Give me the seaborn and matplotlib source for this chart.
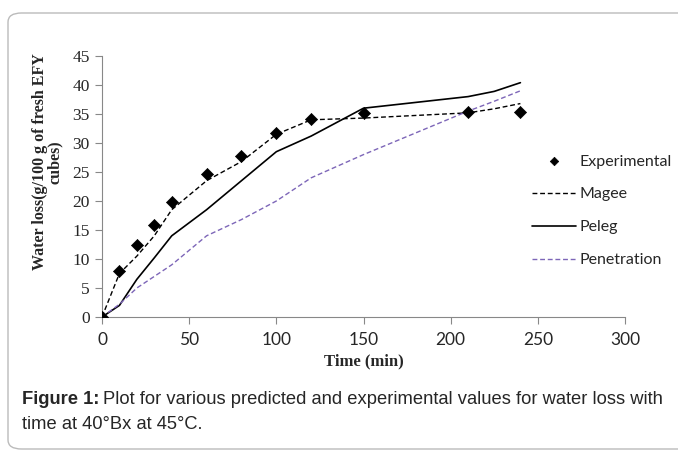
import matplotlib
matplotlib.use('Agg')
import matplotlib.pyplot as plt
import seaborn as sns
import pandas as pd
from matplotlib.patches import FancyBboxPatch

# valores
tempo_exp = [0, 10, 20, 30, 40, 60, 80, 100, 120, 150, 210, 240]
experimental = [0, 8.0, 12.5, 15.8, 19.8, 24.7, 27.7, 31.8, 34.2, 35.2, 35.3, 35.3]

tempo_mod = [0, 10, 20, 30, 40, 60, 80, 100, 120, 150, 210, 225, 240]
magee = [0, 7.5, 10.5, 14.0, 18.5, 23.5, 26.8, 31.5, 34.0, 34.3, 35.2, 35.9, 36.8]
peleg = [0, 2.0, 6.5, 10.2, 14.0, 18.5, 23.5, 28.5, 31.2, 36.0, 38.0, 38.9, 40.4]
penetracao = [0, 2.2, 5.0, 7.0, 9.0, 14.0, 16.8, 20.0, 24.0, 28.0, 35.5, 37.2, 39.0]

x_ticks = [0, 50, 100, 150, 200, 250, 300]
y_ticks = [0, 5, 10, 15, 20, 25, 30, 35, 40, 45]

df_exp = pd.DataFrame({'t': tempo_exp, 'wl': experimental})
df_mod = pd.DataFrame({'t': tempo_mod, 'magee': magee, 'peleg': peleg, 'pen': penetracao})

sns.set_style('white')
fig = plt.figure(figsize=(6.78, 4.53), dpi=100)
ax = fig.add_axes([102 / 678, 1 - 317 / 453, 523 / 678, 261 / 453])

sns.lineplot(data=df_mod, x='t', y='magee', ax=ax, color='black', lw=1.0,
             linestyle=(0, (3.5, 2)), label='Magee')
sns.lineplot(data=df_mod, x='t', y='peleg', ax=ax, color='black', lw=1.2, label='Peleg')
sns.lineplot(data=df_mod, x='t', y='pen', ax=ax, color='#7d66b8', lw=1.0,
             linestyle=(0, (3.5, 2)), label='Penetration')
sns.scatterplot(data=df_exp, x='t', y='wl', ax=ax, marker='D', color='black',
                s=38, edgecolor='black', zorder=5, label='Experimental')

sans_fam = ['Lato', 'DejaVu Sans']
ax.set_xlim(0, 300)
ax.set_ylim(0, 45)
ax.set_xticks(x_ticks)
ax.set_yticks(y_ticks)
ax.set_xticklabels([str(v) for v in x_ticks], family=sans_fam, fontsize=12.5)
ax.set_yticklabels([str(v) for v in y_ticks], family='Liberation Serif', fontsize=12.5)
ax.tick_params(axis='both', direction='out', length=5, width=0.8, color='#888888', bottom=True, left=True)
ax.tick_params(axis='x', pad=6)
ax.tick_params(axis='y', pad=4)
for s in ['top', 'right']:
    ax.spines[s].set_visible(False)
for s in ['left', 'bottom']:
    ax.spines[s].set_color('#888888')
    ax.spines[s].set_linewidth(0.8)

ax.set_xlabel('Time (min)', family='Liberation Serif', fontweight='bold', fontsize=12, labelpad=4)
ax.set_ylabel('Water loss(g/100 g of fresh EFY\ncubes)', family='Liberation Serif',
              fontweight='bold', fontsize=11.5, linespacing=0.95)
ax.yaxis.set_label_coords(-0.074, 0.594)

h, l = ax.get_legend_handles_labels()
ordem = [3, 0, 1, 2]
fig.legend([h[i] for i in ordem], [l[i] for i in ordem], loc='upper left',
           bbox_to_anchor=(518 / 678, 1 - 140 / 453), frameon=False,
           prop={'family': sans_fam, 'size': 11.5}, markerscale=0.7,
           labelspacing=1.17, handlelength=2.75, handletextpad=0.2)
if ax.get_legend():
    ax.get_legend().remove()

# moldura arredondada
moldura = FancyBboxPatch((8 / 678, 4 / 453), 700 / 678, 436 / 453,
                         boxstyle='round,pad=0,rounding_size=0.02',
                         transform=fig.transFigure, fill=False,
                         edgecolor='#bbbbbb', lw=1.0, clip_on=False)
fig.patches.append(moldura)

# legenda da figura
t1 = fig.text(22 / 678, 1 - 404 / 453, 'Figure 1:', family='Liberation Sans',
              fontweight='bold', fontsize=13.2)
r = fig.canvas.get_renderer()
bb = t1.get_window_extent(renderer=r)
fig.text((bb.x1 + 4) / 678, 1 - 404 / 453,
         'Plot for various predicted and experimental values for water loss with',
         family='Liberation Sans', fontsize=13.2)
fig.text(22 / 678, 1 - 429 / 453, 'time at 40°Bx at 45°C.', family='Liberation Sans', fontsize=13.2)

fig.savefig('out.png', dpi=100)
